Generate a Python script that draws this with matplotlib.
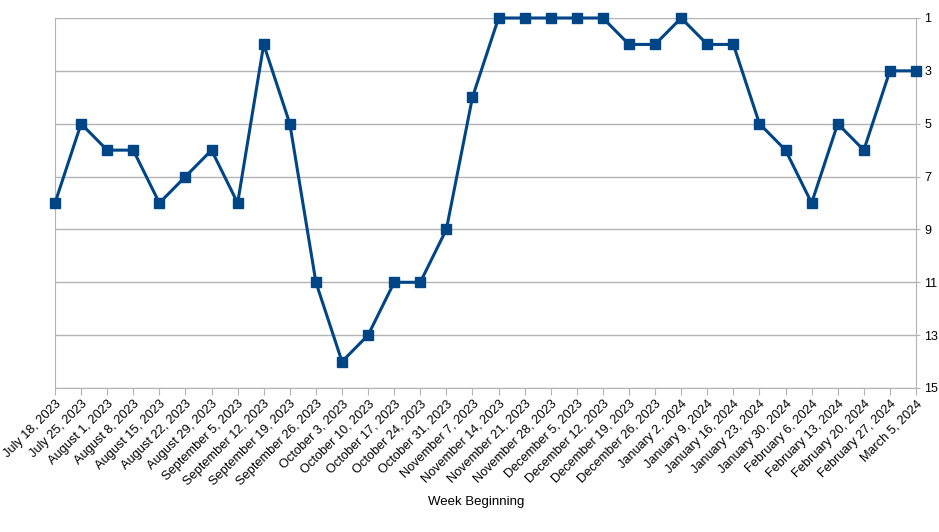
import matplotlib.pyplot as plt

plt.rcParams['font.family'] = ['Liberation Sans', 'DejaVu Sans']

weeks = ["July 18, 2023", "July 25, 2023", "August 1, 2023", "August 8, 2023",
         "August 15, 2023", "August 22, 2023", "August 29, 2023", "September 5, 2023",
         "September 12, 2023", "September 19, 2023", "September 26, 2023",
         "October 3, 2023", "October 10, 2023", "October 17, 2023", "October 24, 2023",
         "October 31, 2023", "November 7, 2023", "November 14, 2023",
         "November 21, 2023", "November 28, 2023", "December 5, 2023",
         "December 12, 2023", "December 19, 2023", "December 26, 2023",
         "January 2, 2024", "January 9, 2024", "January 16, 2024", "January 23, 2024",
         "January 30, 2024", "February 6, 2024", "February 13, 2024",
         "February 20, 2024", "February 27, 2024", "March 5, 2024"]
rank = [8, 5, 6, 6, 8, 7, 6, 8, 2, 5, 11, 14, 13, 11, 11, 9, 4, 1,
        1, 1, 1, 1, 2, 2, 1, 2, 2, 5, 6, 8, 5, 6, 3, 3]
y_ticks = [1, 3, 5, 7, 9, 11, 13, 15]

fig = plt.figure(figsize=(9.39, 5.32), dpi=100)
ax = fig.add_axes([55 / 939, 1 - 388 / 532, (916 - 55) / 939, (388 - 18) / 532])

x = list(range(len(weeks)))
ax.plot(x, rank, color='#004586', linewidth=2.2, marker='s', markersize=6.5,
        zorder=3, clip_on=False)

ax.set_xlim(0, len(weeks) - 1)
ax.set_ylim(15, 1)
ax.set_yticks(y_ticks)
ax.yaxis.tick_right()
ax.tick_params(axis='y', length=3, color='#b3b3b3', labelsize=9, pad=3)
ax.set_xticks(x)
ax.set_xticklabels(weeks, rotation=45, ha='right', rotation_mode='anchor', fontsize=9.2)
ax.tick_params(axis='x', length=5, color='#b3b3b3', pad=2)
ax.grid(axis='y', color='#b3b3b3', linewidth=1)
ax.set_axisbelow(True)
for s in ax.spines.values():
    s.set_color('#b3b3b3')
ax.spines['top'].set_visible(False)

ax.set_xlabel('Week Beginning', fontsize=9.5, labelpad=4)
ax.xaxis.set_label_coords((476 - 55) / (916 - 55), -(496 - 388) / (388 - 18))

fig.savefig('out.png', dpi=100)
